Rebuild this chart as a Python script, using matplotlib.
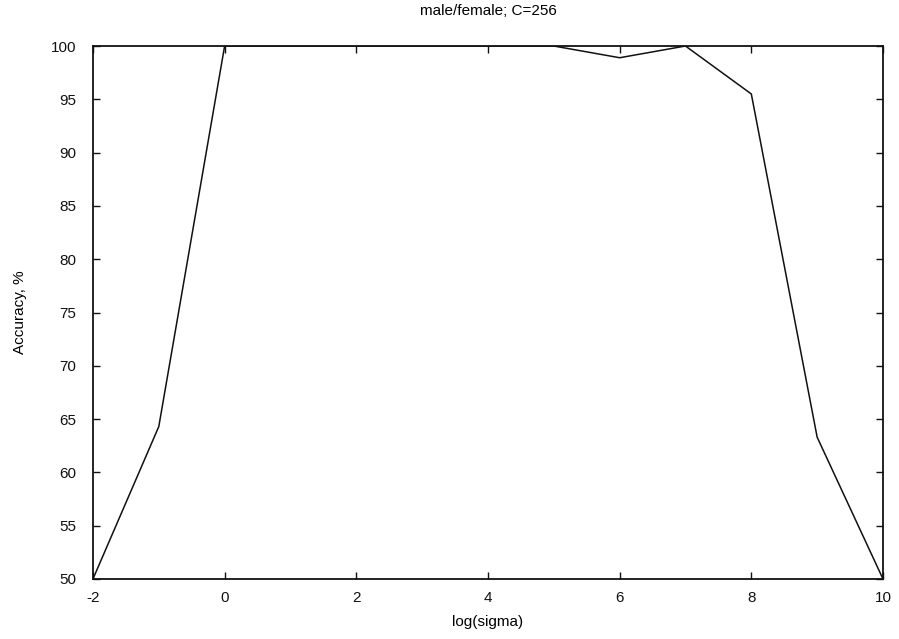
import matplotlib
matplotlib.use("Agg")
import matplotlib.pyplot as plt

# data (log sigma vs accuracy)
log_sigma = [-2, -1, 0, 1, 2, 3, 4, 5, 6, 7, 8, 9, 10]
accuracy = [50.0, 64.3, 100.0, 100.0, 100.0, 100.0, 100.0, 100.0, 98.9, 100.0, 95.5, 63.3, 50.0]

x_ticks = [-2, 0, 2, 4, 6, 8, 10]
y_ticks = list(range(50, 101, 5))

plt.rcParams["font.family"] = ["Liberation Sans", "DejaVu Sans"]
plt.rcParams["axes.unicode_minus"] = False

fig = plt.figure(figsize=(8.99, 6.39), dpi=100)
ax = fig.add_axes([0.1034, 0.0939, 0.8788, 0.8341])

ax.plot(log_sigma, accuracy, color="#111111", lw=1.1)

ax.set_xlim(-2, 10)
ax.set_ylim(50, 100)
ax.set_xticks(x_ticks)
ax.set_yticks(y_ticks)
ax.tick_params(direction="in", length=5, width=1, top=True, right=True,
               labelsize=11, colors="#111111")
ax.tick_params(axis="y", pad=12)
ax.tick_params(axis="x", pad=9)
for side in ax.spines.values():
    side.set_linewidth(1.3)
    side.set_color("#111111")

ax.set_title("male/female; C=256", fontsize=11, pad=22)
ax.set_xlabel("log(sigma)", fontsize=11, labelpad=7)
ax.set_ylabel("Accuracy, %", fontsize=11, labelpad=17)

fig.savefig("out.png", dpi=100)
